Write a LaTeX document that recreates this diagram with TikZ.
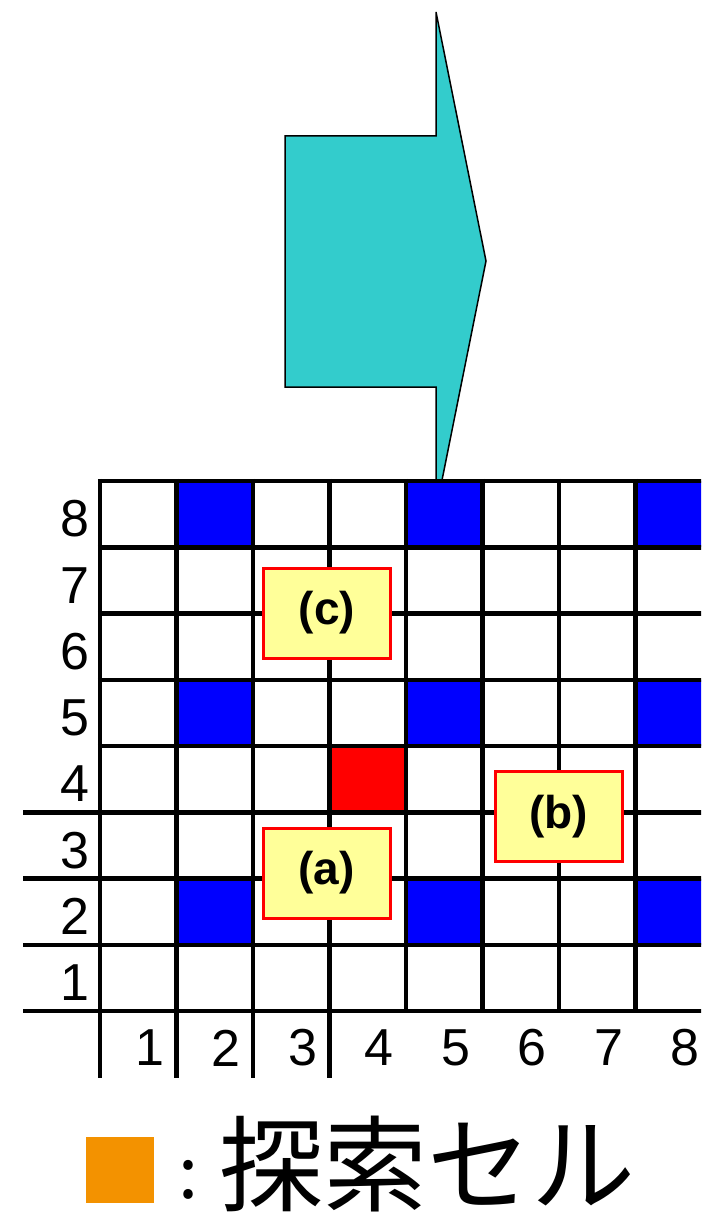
\documentclass[tikz,border=0pt]{standalone}
\usepackage{fontspec}
\setmainfont{Liberation Sans}
\newfontfamily\cjk{Noto Sans CJK JP}
\definecolor{arrowteal}{RGB}{51,204,204}
\definecolor{tagfill}{RGB}{255,255,153}
\definecolor{legendorange}{RGB}{243,146,0}
\begin{document}
\begin{tikzpicture}[x=1pt,y=-1pt,
  gridline/.style={line width=4.5pt,black},
  tagbox/.style={draw=red,line width=3pt,fill=tagfill,minimum width=127pt,
    minimum height=90pt,inner sep=0pt,font=\bfseries\fontsize{46}{46}\selectfont},
  rowlab/.style={anchor=east,inner sep=0pt,font=\fontsize{52}{52}\selectfont},
  collab/.style={anchor=center,inner sep=0pt,font=\fontsize{52}{52}\selectfont},
  arrowshape/.style={draw=black,line width=1.5pt,fill=arrowteal,line join=miter}]
\useasboundingbox (0,0) rectangle (701,1217);
\clip (0,0) rectangle (701,1217);
\def\cw{76.5}
\def\rh{66.25}
% big right-pointing block arrow (its lower part sits behind the board)
\draw[arrowshape] (285,136) -- (436,136) -- (436,12) -- (486,261) -- (436,510)
  -- (436,387) -- (285,387) -- cycle;
% board background
\fill[white] (100,481) rectangle (712,1011);
% blocked cells
\foreach \c/\r in {2/8,5/8,8/8,2/5,5/5,8/5,2/2,5/2,8/2}
  \fill[blue] ({100+(\c-1)*\cw},{481+(8-\r)*\rh}) rectangle +(\cw,\rh);
% current cell
\fill[red] ({100+3*\cw},{481+4*\rh}) rectangle +(\cw,\rh);
% vertical grid lines (first four run down past the axis)
\foreach \i in {0,...,8}{
  \pgfmathsetmacro{\yb}{\i<4 ? 1078 : 1013.25}
  \draw[gridline] ({100+\i*\cw},478.75) -- ({100+\i*\cw},\yb);
}
% horizontal grid lines (lower four run out to the left)
\foreach \j in {0,...,8}{
  \pgfmathsetmacro{\xl}{\j>4 ? 23 : 97.75}
  \draw[gridline] (\xl,{481+\j*\rh}) -- (712,{481+\j*\rh});
}
% row numbers
\foreach \r in {1,...,8}
  \node[rowlab] (row\r) at (90,{481+(8-\r)*\rh+38}) {\r};
% column numbers
\foreach \c in {1,...,8}
  \node[collab] (col\c) at ({100+\c*\cw-27},1048) {\c};
% case labels
\node[tagbox] (taga) at (326.5,873) {(a)};
\node[tagbox] (tagb) at (558.5,816.5) {(b)};
\node[tagbox] (tagc) at (327,613) {(c)};
% legend
\fill[legendorange] (86,1137) rectangle (154,1203);
\node[anchor=base,inner sep=0pt,font=\cjk\fontsize{72}{72}\selectfont] (colon) at (189,1198) {:};
\node[anchor=base west,inner sep=0pt,font=\cjk\fontsize{104}{104}\selectfont] (legendtext) at (219,1203) {探索セル};
\end{tikzpicture}
\end{document}
